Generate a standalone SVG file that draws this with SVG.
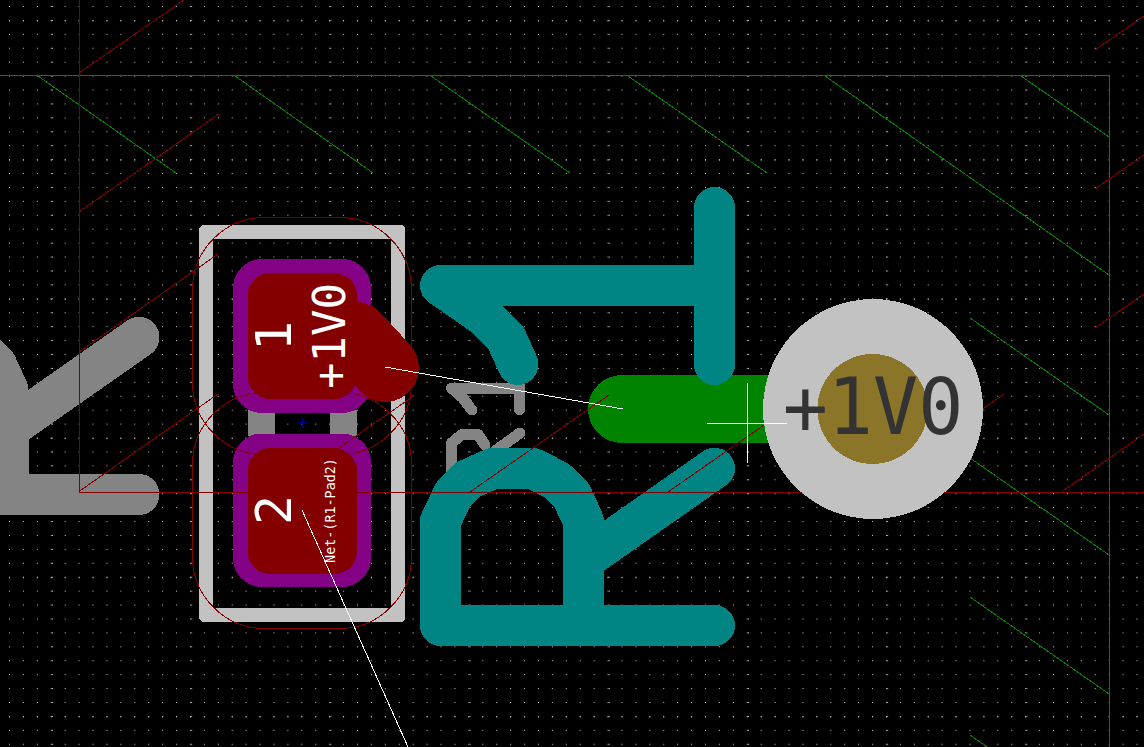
<svg xmlns="http://www.w3.org/2000/svg" width="1144" height="747" viewBox="0 0 1144 747">
<style>
svg { shape-rendering: crispEdges; }
.cu { fill: #840000; }
.mask { fill: #840084; }
.teal { fill: none; stroke: #008484; stroke-width: 41; stroke-linecap: round; stroke-linejoin: round; }
.gray { fill: none; stroke: #848484; stroke-linecap: round; stroke-linejoin: round; }
.silk { fill: #c2c2c2; fill-rule: evenodd; }
.court { fill: none; stroke: #840000; stroke-width: 1; }
.gl { fill: none; stroke: #008400; stroke-width: 1; }
.rl { fill: none; stroke: #840000; stroke-width: 1; }
.wl { fill: none; stroke: #ffffff; stroke-width: 1; }
text { font-family: "DejaVu Sans Mono", monospace; }
.pt { fill: #ffffff; text-anchor: middle; }
</style>
<defs>
<pattern id="gridRows" x="9" y="6" width="139.2" height="13.92" patternUnits="userSpaceOnUse">
<g fill="#c4c4c4">
<rect x="0" y="0" width="1" height="1"/><rect x="13.92" y="0" width="1" height="1"/><rect x="27.84" y="0" width="1" height="1"/><rect x="41.76" y="0" width="1" height="1"/><rect x="55.68" y="0" width="1" height="1"/><rect x="69.6" y="0" width="1" height="1"/><rect x="83.52" y="0" width="1" height="1"/><rect x="97.44" y="0" width="1" height="1"/><rect x="111.36" y="0" width="1" height="1"/><rect x="125.28" y="0" width="1" height="1"/>
</g>
</pattern>
<pattern id="gridMajorRow" x="9" y="20.5" width="13.92" height="139.2" patternUnits="userSpaceOnUse">
<rect x="0" y="0" width="1" height="1" fill="#c4c4c4"/>
</pattern>
<pattern id="gridMajorCol" x="52" y="6" width="139.2" height="13.92" patternUnits="userSpaceOnUse">
<rect x="0" y="0" width="1" height="1" fill="#c4c4c4"/>
</pattern>
<path id="letterR" d="M583.5 625.5H440.5V521L453.5 494L467 480L492.5 468.5H533L556.5 480.5L571.5 495L583.5 521V625.5M583.5 560L714.5 468.3M583.5 625.5H714.5"/>
</defs>
<rect id="background" width="1144" height="747" fill="#000000"/>
<rect id="grid-dots" width="1144" height="747" fill="url(#gridRows)"/>
<rect id="grid-major-rows" width="1144" height="747" fill="url(#gridMajorRow)"/>
<rect id="grid-major-cols" width="1144" height="747" fill="url(#gridMajorCol)"/>

<g id="hatch-green">
<path class="gl" d="M38 76L176 173M235 76L373 173M431 76L570 173M628 76L767 173M825 76L1109 275M1021 76L1109 137M970 318L1109 415M970 458L1109 555M970 597L1109 694M970 735L987 747"/>
</g>

<g id="ref-R-left"><use href="#letterR" class="gray" stroke-width="41" transform="translate(-575.5 -131)"/></g>

<g id="ref-R1-silk">
<path class="gray" stroke-width="11" d="M471.7 410L463 398L451.5 388H519.5V409.5M519.5 388V360M451.5 480V443L462 434.5H478L485 445M520 433L495 451"/>
</g>

<g id="board-outline">
<path class="gl" d="M0 75.5H1109.5V747"/>
</g>

<g id="green-pad">
<path d="M622 409H800" fill="none" stroke="#008400" stroke-width="68" stroke-linecap="round"/>
</g>

<g id="R1-footprint">
<path class="silk" d="M202 225H402L405 228V619L402 622H202L199 619V228ZM213 239V608H391V239Z"/>
<rect x="248" y="410" width="27" height="26" fill="#848484"/>
<rect x="330" y="410" width="27" height="26" fill="#848484"/>
<path d="M297 422.5H307M302.5 417V428" fill="none" stroke="#000084" stroke-width="1"/>
</g>

<g id="pad-1">
<rect class="mask" x="233" y="259" width="138" height="154" rx="29" ry="29"/>
<rect class="cu" x="247.5" y="273" width="109.5" height="126" rx="23" ry="23"/>
</g>
<g id="pad-2">
<rect class="mask" x="233" y="433.5" width="138" height="153.5" rx="29" ry="29"/>
<rect class="cu" x="247.5" y="448" width="109.5" height="126" rx="23" ry="23"/>
</g>
<g id="track-red">
<path d="M356 336L385 368" fill="none" stroke="#840000" stroke-width="68" stroke-linecap="round"/>
</g>

<g id="ref-1-teal">
<path class="teal" d="M714.5 207.5V364.5M714.5 285.5H440.5L483 315L506 338L518 364.5"/>
</g>
<g id="ref-R-teal"><use href="#letterR" class="teal"/></g>

<g id="hatch-red">
<path class="rl" d="M79 73L184 0M79 212L219 114M79 491.5L218 394M470 492L609 395M668 492L807 395M275.5 492L415 395M79 352L218 254M1095 50L1144 16M1095 189L1144 155M1095 328L1144 294M1062 491.5L1144 434M864 492L1004 394"/>
<path class="rl" d="M79.5 0V492H1144"/>
</g>

<g id="courtyard">
<rect class="court" x="192.5" y="217.5" width="219" height="237" rx="72" ry="72"/>
<rect class="court" x="192.5" y="392.5" width="219" height="236" rx="72" ry="72"/>
</g>

<g id="via">
<circle cx="873" cy="409" r="110" fill="#c2c2c2"/>
<circle cx="872.5" cy="409" r="55" fill="#8a7529"/>
<text transform="translate(873 434) scale(0.95 1)" font-size="79" fill="#333333" text-anchor="middle">+1V0</text>
</g>

<g id="connectors">
<path class="wl" d="M385 367L623 409M302 510L408 747M707 423.5H787M747.5 383V463"/>
</g>

<g id="pad-labels">
<text class="pt" transform="translate(291 336) rotate(-90)" font-size="50">1</text>
<text class="pt" transform="translate(344.5 336) rotate(-90)" font-size="44">+1V0</text>
<text class="pt" transform="translate(291 510) rotate(-90)" font-size="50">2</text>
<text class="pt" transform="translate(335 510.5) rotate(-90)" font-size="13.4">Net-(R1-Pad2)</text>
</g>
</svg>
